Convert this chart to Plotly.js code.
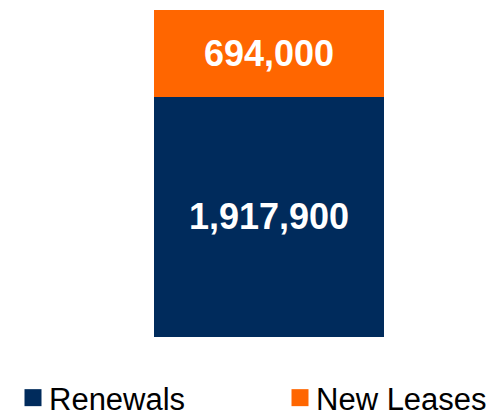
<!DOCTYPE html>
<html>
<head>
<meta charset="utf-8">
<script src="https://cdn.plot.ly/plotly-3.0.1.min.js"></script>
<style>html,body{margin:0;padding:0;background:#fff;}#chart{width:494px;height:412px;}</style>
</head>
<body>
<div id="chart"></div>
<script>
const categories = ["Leases"];
const renewals = [1917900];
const newLeases = [694000];
const seriesNames = ["Renewals", "New Leases"];

const labelFont = {family: "Liberation Sans, Arial, sans-serif", size: 36, color: "#ffffff", weight: "bold"};
const legendFont = {family: "Liberation Sans, Arial, sans-serif", size: 31, color: "#000000"};

const data = [
  {
    type: "bar", name: seriesNames[0], x: categories, y: renewals,
    marker: {color: "#002B5C"}, width: 1, legend: "legend",
    texttemplate: "%{y:,}", textposition: "inside", insidetextanchor: "middle",
    textfont: labelFont, hoverinfo: "none"
  },
  {
    type: "bar", name: seriesNames[1], x: categories, y: newLeases,
    marker: {color: "#FF6600"}, width: 1, legend: "legend2",
    texttemplate: "%{y:,}", textposition: "inside", insidetextanchor: "middle",
    textfont: labelFont, hoverinfo: "none"
  }
];

const total = renewals[0] + newLeases[0];

function legendAt(xpx) {
  return {
    orientation: "h", xref: "container", yref: "paper",
    x: xpx / 494, xanchor: "left", y: -34 / 327, yanchor: "top",
    font: legendFont, bgcolor: "rgba(0,0,0,0)"
  };
}

const layout = {
  width: 494, height: 412,
  margin: {l: 154, r: 110, t: 10, b: 75, pad: 0, autoexpand: false},
  paper_bgcolor: "#ffffff", plot_bgcolor: "#ffffff",
  barmode: "stack",
  showlegend: true,
  xaxis: {visible: false, range: [-0.5, 0.5]},
  yaxis: {visible: false, range: [0, total]},
  legend: legendAt(9),
  legend2: legendAt(276)
};

Plotly.newPlot("chart", data, layout, {staticPlot: true}).then(function(){
  document.querySelectorAll("#chart .legendpoints path").forEach(function(p){
    p.setAttribute("d", "M12.5,8.5H-4.5V-8.5H12.5Z");
  });
});
</script>
</body>
</html>
